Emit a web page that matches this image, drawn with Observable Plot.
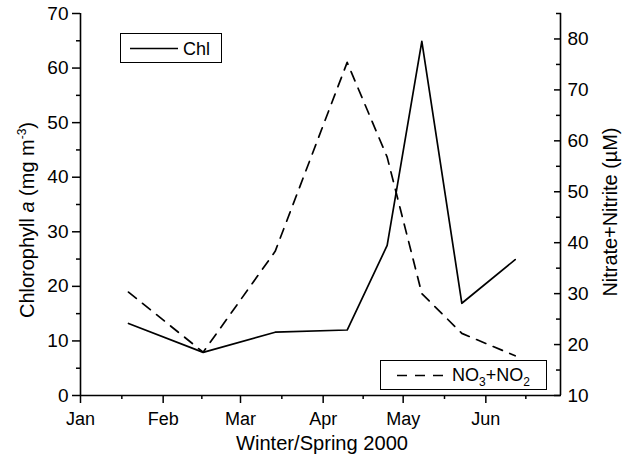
<!DOCTYPE html>
<html><head><meta charset="utf-8">
<script src="https://cdn.jsdelivr.net/npm/d3@7"></script>
<script src="https://cdn.jsdelivr.net/npm/@observablehq/plot@0.6"></script>
<style>
body{margin:0;background:#fff;font-family:"Liberation Sans",Arial,sans-serif;}
#chart{position:relative;width:626px;height:460px;}
</style></head><body><div id="chart"></div>
<script>
// ---- data ----
const sampleDates = ["2000-01-19","2000-02-16","2000-03-14","2000-04-10","2000-04-25","2000-05-08","2000-05-23","2000-06-12"];
const chlValues = [13.2, 7.9, 11.6, 12.0, 27.5, 64.9, 16.9, 24.9];
const nitrateValues = [30.3, 18.5, 38.3, 75.4, 56.8, 30.0, 22.2, 17.8];
const monthTicks = ["2000-01-01","2000-02-01","2000-03-01","2000-04-01","2000-05-01","2000-06-01"];
const monthBounds = ["2000-01-01","2000-02-01","2000-03-01","2000-04-01","2000-05-01","2000-06-01","2000-07-01"];
const xDomain = ["2000-01-01","2000-06-29"];
const chlTicks = [0,10,20,30,40,50,60,70];
const chlMinor = [5,15,25,35,45,55,65];
const chlDomain = [0,70];
const nitDomain = [10,85];
const nitTicks = [10,20,30,40,50,60,70,80];
const nitMinor = [15,25,35,45,55,65,75,85];

const P = s => new Date(s + "T00:00:00Z");
const data = sampleDates.map((d,i) => ({date: P(d), chl: chlValues[i], nit: nitrateValues[i]}));
const toLeft = n => chlDomain[0] + (n - nitDomain[0]) * (chlDomain[1]-chlDomain[0])/(nitDomain[1]-nitDomain[0]);
const bounds = monthBounds.map(P);
const xMinor = bounds.slice(0,-1).map((b,i) => new Date((+b + +bounds[i+1])/2));
const blank = () => "";

const chart = Plot.plot({
  width: 626, height: 460,
  marginLeft: 80, marginRight: 66, marginTop: 13, marginBottom: 65,
  style: {fontFamily: '"Liberation Sans", Arial, sans-serif', fontSize: "18px", color: "#000", background: "#fff"},
  x: {type: "utc", domain: xDomain.map(P)},
  y: {domain: chlDomain},
  marks: [
    // ticks
    Plot.axisX(monthTicks.map(P), {tickSize: 8, tickFormat: blank, label: null, strokeWidth: 1.5}),
    Plot.axisX(xMinor, {tickSize: 4, tickFormat: blank, label: null, strokeWidth: 1.5}),
    Plot.axisY(chlTicks, {anchor: "left", tickSize: 8, tickFormat: blank, label: null, strokeWidth: 1.5}),
    Plot.axisY(chlMinor, {anchor: "left", tickSize: 4, tickFormat: blank, label: null, strokeWidth: 1.5}),
    Plot.axisY(nitTicks.map(toLeft), {anchor: "right", tickSize: -7, tickFormat: blank, label: null, strokeWidth: 1.5}),
    Plot.axisY(nitMinor.map(toLeft), {anchor: "right", tickSize: -5, tickFormat: blank, label: null, strokeWidth: 1.5}),
    // tick labels
    Plot.text(monthTicks, {x: d => P(d), text: d => d3.utcFormat("%b")(P(d)), frameAnchor: "bottom", lineAnchor: "top", dy: 17, fontSize: 18, fill: "#000"}),
    Plot.text(chlTicks, {y: d => d, text: d => String(d), frameAnchor: "left", textAnchor: "end", lineAnchor: "middle", dx: -12, fontSize: 19, fill: "#000"}),
    Plot.text(nitTicks, {y: d => toLeft(d), text: d => String(d), frameAnchor: "right", textAnchor: "start", lineAnchor: "middle", dx: 7, fontSize: 19, fill: "#000"}),
    // axis lines
    Plot.ruleX(xDomain.map(P), {stroke: "#000", strokeWidth: 1.6}),
    Plot.ruleY([chlDomain[0]], {stroke: "#000", strokeWidth: 1.6}),
    // series
    Plot.lineY(data, {x: "date", y: "chl", stroke: "#000", strokeWidth: 1.7}),
    Plot.lineY(data, {x: "date", y: d => toLeft(d.nit), stroke: "#000", strokeWidth: 1.7, strokeDasharray: "10,8"})
  ]
});
document.getElementById("chart").appendChild(chart);

// ---- axis titles & legends (rich text) ----
const svg = d3.select(chart);
const ff = '"Liberation Sans", Arial, sans-serif';
const lt = svg.append("text").attr("transform", "translate(34,220) rotate(-90)")
  .attr("text-anchor", "middle").attr("font-size", 20).attr("font-family", ff).attr("fill", "#000")
  .attr("textLength", 196).attr("lengthAdjust", "spacingAndGlyphs");
lt.append("tspan").text("Chlorophyll ");
lt.append("tspan").attr("font-style", "italic").text("a");
lt.append("tspan").text(" (mg m");
lt.append("tspan").attr("font-size", 12).attr("dy", -8).text("-3");
lt.append("tspan").attr("dy", 8).text(")");

svg.append("text").attr("transform", "translate(617,212) rotate(-90)")
  .attr("text-anchor", "middle").attr("font-size", 20).attr("font-family", ff).attr("fill", "#000")
  .attr("textLength", 169).attr("lengthAdjust", "spacingAndGlyphs")
  .text("Nitrate+Nitrite (\u00b5M)");

svg.append("text").attr("x", 322).attr("y", 450).attr("text-anchor", "middle")
  .attr("font-size", 20).attr("font-family", ff).attr("fill", "#000")
  .attr("textLength", 172).attr("lengthAdjust", "spacingAndGlyphs").text("Winter/Spring 2000");

// legend 1
const g1 = svg.append("g").attr("text-anchor", "start");
g1.append("rect").attr("x", 120.5).attr("y", 33.5).attr("width", 101).attr("height", 29).attr("fill", "#fff").attr("stroke", "#000");
g1.append("line").attr("x1", 130).attr("x2", 178).attr("y1", 48.5).attr("y2", 48.5).attr("stroke", "#000").attr("stroke-width", 1.7);
g1.append("text").attr("x", 183).attr("y", 55).attr("text-anchor", "start").attr("font-size", 18).attr("font-family", ff).attr("fill", "#000").text("Chl");

// legend 2
const g2 = svg.append("g").attr("text-anchor", "start");
g2.append("rect").attr("x", 380.5).attr("y", 360.5).attr("width", 166).attr("height", 29).attr("fill", "#fff").attr("stroke", "#000");
g2.append("line").attr("x1", 397).attr("x2", 444).attr("y1", 375.5).attr("y2", 375.5).attr("stroke", "#000").attr("stroke-width", 1.7).attr("stroke-dasharray", "10,8");
const t2 = g2.append("text").attr("x", 452).attr("y", 381).attr("text-anchor", "start").attr("font-size", 18).attr("font-family", ff).attr("fill", "#000");
t2.append("tspan").text("NO");
t2.append("tspan").attr("font-size", 12).attr("dy", 5).text("3");
t2.append("tspan").attr("dy", -5).text("+NO");
t2.append("tspan").attr("font-size", 12).attr("dy", 5).text("2");
</script></body></html>
